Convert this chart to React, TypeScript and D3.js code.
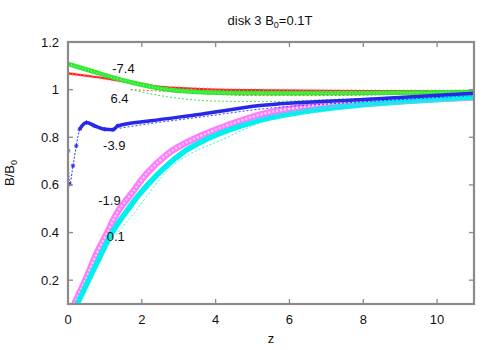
import React from "react";
import * as d3 from "d3";

const W = 500;
const H = 350;
const M = { left: 68, right: 26, top: 42, bottom: 46 };

const titleMain = "disk 3 B";
const xLabel = "z";
const xTicks = [0, 2, 4, 6, 8, 10];
const yTicks = [0.2, 0.4, 0.6, 0.8, 1, 1.2];
const yTickLabels = ["0.2", "0.4", "0.6", "0.8", "1", "1.2"];

// thick series
const zRed = [0, 0.7, 1.6, 2.5, 3.2, 4, 5.4, 7, 9, 11];
const vRed = [1.068, 1.054, 1.033, 1.012, 1.005, 1.0, 0.997, 0.995, 0.994, 0.993];

const zGreen = [0, 0.7, 1.6, 2.5, 3.2, 4.5, 6, 8, 11];
const vGreen = [1.108, 1.075, 1.035, 1.005, 0.993, 0.986, 0.985, 0.986, 0.99];

const zBlue = [0, 0.045, 0.135, 0.225, 0.315, 0.5, 0.72, 0.99, 1.22, 1.35, 2.25, 3.6, 5.2, 7.9, 11];
const vBlue = [0.743, 0.603, 0.68, 0.764, 0.834, 0.862, 0.848, 0.834, 0.832, 0.848, 0.869, 0.897, 0.933, 0.958, 0.985];

const zMag = [0.17, 0.5, 0.77, 1.04, 1.31, 1.71, 2.12, 2.7, 3.51, 4.41, 5.2, 6.5, 7.9, 9.5, 11];
const vMag = [0.1, 0.211, 0.31, 0.393, 0.477, 0.562, 0.645, 0.73, 0.8, 0.855, 0.895, 0.93, 0.95, 0.962, 0.972];

const zCyan = [0.25, 0.59, 0.9, 1.17, 1.53, 1.94, 2.43, 3.06, 3.87, 5.05, 6.5, 7.9, 9.5, 11];
const vCyan = [0.1, 0.211, 0.31, 0.393, 0.477, 0.562, 0.645, 0.73, 0.8, 0.865, 0.91, 0.935, 0.953, 0.967];

// thin dotted companions
const zRedThin = [1.7, 3, 5, 7, 9, 11];
const vRedThin = [1.0, 0.99, 0.975, 0.975, 0.98, 0.985];

const zGreenThin = [1.7, 2.7, 4.0, 5.3, 7.3, 9, 11];
const vGreenThin = [1.0, 0.97, 0.952, 0.95, 0.96, 0.968, 0.975];

const zBlueThin = [1.4, 2.25, 3.6, 5.2, 7.9, 11];
const vBlueThin = [0.838, 0.858, 0.885, 0.918, 0.948, 0.975];

const zMagThin = [4, 5.5, 7, 9, 11];
const vMagThin = [0.83, 0.89, 0.925, 0.945, 0.955];

const zCyanThin = [1.3, 1.76, 2.7, 4.32, 5.2, 7, 9, 11];
const vCyanThin = [0.39, 0.477, 0.66, 0.8, 0.86, 0.91, 0.94, 0.955];

const labels = ["-7.4", "6.4", "-3.9", "-1.9", "0.1"];
const labelZ = [1.2, 1.15, 0.95, 0.82, 1.05];
const labelV = [1.07, 0.945, 0.745, 0.515, 0.365];

const font = "'Liberation Sans', Arial, sans-serif";

export default function App() {
  const x = d3.scaleLinear().domain([0, 11]).range([M.left, W - M.right]);
  const y = d3.scaleLinear().domain([0.1, 1.2]).range([H - M.bottom, M.top]);
  const line = d3
    .line<[number, number]>()
    .x((d) => x(d[0]))
    .y((d) => y(d[1]))
    .curve(d3.curveMonotoneX);
  const pts = (zs: number[], vs: number[]) => zs.map((z, i) => [z, vs[i]] as [number, number]);

  const x0 = M.left, x1 = W - M.right, y0 = M.top, y1 = H - M.bottom;
  const frame = "#8a8a8a";
  const tl = 5;

  const bluePts = pts(zBlue, vBlue);

  return (
    <svg width={W} height={H} style={{ display: "block", position: "absolute", left: 0, top: 0 }} fontFamily={font}>
      <rect width={W} height={H} fill="#fff" />
      <defs>
        <clipPath id="plot">
          <rect x={x0} y={y0} width={x1 - x0} height={y1 - y0} />
        </clipPath>
      </defs>
      <g clipPath="url(#plot)" fill="none">
        {/* magenta open squares */}
        <path d={line(pts(zMag, vMag)) || ""} stroke="#ff7cff" strokeWidth={6.5} />
        <path d={line(pts(zMag, vMag)) || ""} stroke="#ffd6ff" strokeWidth={2} strokeDasharray="2 2" />
        {/* cyan filled squares */}
        <path d={line(pts(zCyan, vCyan)) || ""} stroke="#00f0f0" strokeWidth={5.5} />
        {/* thin dotted */}
        <path d={line(pts(zCyanThin, vCyanThin)) || ""} stroke="#40e8e8" strokeWidth={1} strokeDasharray="2 2" />
        <path d={line(pts(zMagThin, vMagThin)) || ""} stroke="#ff80ff" strokeWidth={1} strokeDasharray="2 2" />
        <path d={line(pts(zBlueThin, vBlueThin)) || ""} stroke="#4040ff" strokeWidth={1} strokeDasharray="2 2" />
        <path d={line(pts(zRedThin, vRedThin)) || ""} stroke="#ff5050" strokeWidth={1} strokeDasharray="2 2" />
        <path d={line(pts(zGreenThin, vGreenThin)) || ""} stroke="#40e040" strokeWidth={1} strokeDasharray="2 2" />
        {/* red */}
        <path d={line(pts(zRed, vRed)) || ""} stroke="#ff2020" strokeWidth={2.2} />
        <path d={line(pts(zRed, vRed)) || ""} stroke="#ff8080" strokeWidth={4} strokeDasharray="1 3" opacity={0.6} />
        {/* green */}
        <path d={line(pts(zGreen, vGreen)) || ""} stroke="#30e830" strokeWidth={4.5} />
        <path d={line(pts(zGreen, vGreen)) || ""} stroke="#90f890" strokeWidth={1.2} strokeDasharray="1 2" />
        {/* blue */}
        <path d={line(bluePts.slice(0, 6)) || ""} stroke="#3030ff" strokeWidth={1} strokeDasharray="2 1.5" />
        <path d={line(bluePts.slice(4)) || ""} stroke="#2828e8" strokeWidth={3.5} />
        {bluePts.slice(0, 10).map((p, i) => {
          const cx = x(p[0]);
          const cy = y(p[1]);
          const r = 2.2;
          return (
            <path
              key={i}
              d={`M${cx - r},${cy}H${cx + r}M${cx},${cy - r}V${cy + r}M${cx - r * 0.7},${cy - r * 0.7}L${cx + r * 0.7},${cy + r * 0.7}M${cx - r * 0.7},${cy + r * 0.7}L${cx + r * 0.7},${cy - r * 0.7}`}
              stroke="#2828e8"
              strokeWidth={1}
            />
          );
        })}
      </g>

      {/* frame */}
      <rect x={x0} y={y0} width={x1 - x0} height={y1 - y0} fill="none" stroke={frame} strokeWidth={2.2} />
      {xTicks.map((t) => (
        <g key={"xt" + t}>
          <line x1={x(t)} x2={x(t)} y1={y1} y2={y1 - tl} stroke={frame} strokeWidth={1.3} />
          <line x1={x(t)} x2={x(t)} y1={y0} y2={y0 + tl} stroke={frame} strokeWidth={1.3} />
          <text x={x(t)} y={y1 + 20} fontSize={13} textAnchor="middle" fill="#111">
            {String(t)}
          </text>
        </g>
      ))}
      {yTicks.map((t, i) => (
        <g key={"yt" + t}>
          <line x1={x0} x2={x0 + tl} y1={y(t)} y2={y(t)} stroke={frame} strokeWidth={1.3} />
          <line x1={x1} x2={x1 - tl} y1={y(t)} y2={y(t)} stroke={frame} strokeWidth={1.3} />
          <text x={x0 - 9} y={y(t) + 4.5} fontSize={13} textAnchor="end" fill="#111">
            {yTickLabels[i]}
          </text>
        </g>
      ))}

      {/* curve labels */}
      {labels.map((l, i) => (
        <text key={"l" + i} x={x(labelZ[i])} y={y(labelV[i])} fontSize={13} fill="#111">
          {l}
        </text>
      ))}

      {/* title */}
      <text x={270} y={25} fontSize={13} textAnchor="middle" fill="#111">
        {titleMain}
        <tspan fontSize={9} dy={3}>0</tspan>
        <tspan dy={-3}>=0.1T</tspan>
      </text>
      {/* x label */}
      <text x={271} y={343} fontSize={13} textAnchor="middle" fill="#111">
        {xLabel}
      </text>
      {/* y label */}
      <text transform="translate(14,173) rotate(-90)" fontSize={13} textAnchor="middle" fill="#111">
        B/B<tspan fontSize={9} dy={3}>0</tspan>
      </text>
    </svg>
  );
}
